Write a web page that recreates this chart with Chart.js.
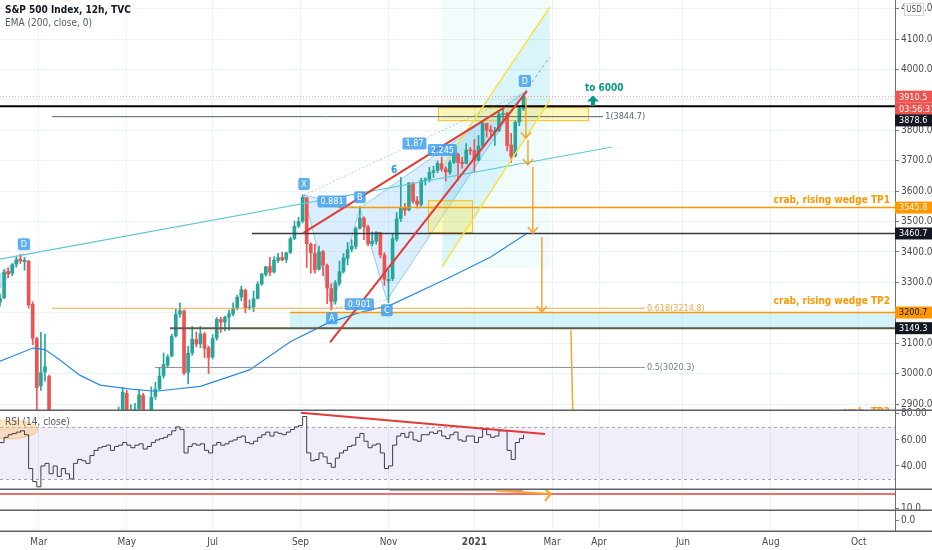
<!DOCTYPE html>
<html>
<head>
<meta charset="utf-8">
<script src="https://cdn.jsdelivr.net/npm/chart.js@4.4.1/dist/chart.umd.min.js"></script>
<style>
  html, body { margin: 0; padding: 0; background: #ffffff; }
  #wrap { width: 932px; height: 550px; position: relative; }
</style>
</head>
<body>
<div id="wrap"><canvas id="spx"></canvas></div>
<script>
// x is counted in trading days from 3 Feb 2020, one candle every two trading days
const barStep = 2;

const monthIdx = [19, 62, 104, 147, 190, 232, 270, 293, 334, 377, 420];
const monthLabels = ['Mar', 'May', 'Jul', 'Sep', 'Nov', '2021', 'Mar', 'Apr', 'Jun', 'Aug', 'Oct'];
const priceTicks = [2900, 3000, 3100, 3200, 3300, 3400, 3500, 3600, 3700, 3800, 3900, 4000, 4100, 4200];
const rsiTicks = [40, 60, 80];

const open = [
  3235, 3250, 3336, 3330, 3360, 3376, 3368, 3370, 3228, 3115,
  2960, 3005, 2990, 2750, 2745, 2705, 2530, 2405, 2240, 2470,
  2545, 2580, 2530, 2665, 2752, 2765, 2785, 2870, 2740, 2800,
  2880, 2935, 2835, 2870, 2885, 2928, 2825, 2866, 2925, 2950,
  2994, 3028, 3058, 3124, 3196, 3205, 3004, 3068, 3112, 3098,
  3130, 3085, 3055, 3117, 3178, 3170, 3186, 3196, 3216, 3252,
  3274, 3216, 3219, 3247, 3295, 3326, 3352, 3334, 3372, 3382,
  3375, 3398, 3444, 3485, 3502, 3578, 3425, 3396, 3343, 3400,
  3355, 3280, 3238, 3297, 3336, 3379, 3409, 3418, 3478, 3511,
  3482, 3428, 3435, 3464, 3390, 3305, 3312, 3442, 3510, 3546,
  3538, 3626, 3568, 3556, 3636, 3639, 3661, 3668, 3690, 3673,
  3662, 3695, 3721, 3695, 3691, 3736, 3733, 3701, 3749, 3823,
  3802, 3794, 3799, 3852, 3856, 3752, 3716, 3827, 3870
];
const high = [
  3262, 3342, 3347, 3362, 3386, 3393, 3382, 3372, 3236, 3120,
  3136, 3130, 2995, 2880, 2760, 2720, 2560, 2410, 2480, 2640,
  2640, 2590, 2675, 2790, 2818, 2815, 2880, 2872, 2815, 2890,
  2955, 2945, 2898, 2902, 2945, 2935, 2868, 2956, 2971, 3021,
  3068, 3062, 3130, 3211, 3233, 3210, 3090, 3155, 3137, 3155,
  3136, 3090, 3128, 3184, 3185, 3188, 3210, 3233, 3258, 3287,
  3278, 3243, 3272, 3302, 3330, 3352, 3382, 3385, 3395, 3399,
  3399, 3449, 3501, 3514, 3588, 3580, 3430, 3425, 3419, 3405,
  3360, 3295, 3306, 3370, 3395, 3431, 3440, 3482, 3550, 3515,
  3488, 3465, 3466, 3465, 3398, 3340, 3460, 3530, 3645, 3560,
  3628, 3630, 3582, 3643, 3644, 3678, 3682, 3699, 3712, 3680,
  3700, 3726, 3725, 3711, 3756, 3744, 3770, 3783, 3826, 3822,
  3815, 3810, 3860, 3870, 3860, 3790, 3831, 3877, 3915
];
const low = [
  3222, 3246, 3315, 3322, 3350, 3362, 3340, 3215, 3095, 2855,
  2945, 2975, 2730, 2720, 2480, 2380, 2310, 2191, 2230, 2460,
  2520, 2450, 2520, 2650, 2720, 2750, 2780, 2727, 2730, 2795,
  2870, 2820, 2798, 2858, 2875, 2810, 2797, 2860, 2915, 2945,
  2985, 3020, 3055, 3120, 3185, 2996, 2966, 3060, 3088, 3085,
  3052, 3000, 3048, 3110, 3135, 3140, 3142, 3190, 3210, 3240,
  3200, 3210, 3204, 3245, 3290, 3320, 3322, 3330, 3365, 3370,
  3365, 3395, 3440, 3480, 3495, 3349, 3330, 3330, 3340, 3322,
  3230, 3209, 3228, 3290, 3330, 3357, 3400, 3410, 3475, 3440,
  3420, 3420, 3425, 3380, 3290, 3233, 3305, 3435, 3500, 3520,
  3535, 3560, 3545, 3550, 3620, 3630, 3645, 3660, 3665, 3633,
  3655, 3690, 3636, 3675, 3690, 3720, 3663, 3700, 3745, 3777,
  3780, 3750, 3795, 3830, 3732, 3694, 3712, 3815, 3865
];
const close = [
  3248, 3334, 3328, 3358, 3374, 3370, 3373, 3226, 3116, 2954,
  3003, 3023, 2746, 2741, 2711, 2529, 2409, 2237, 2475, 2541,
  2585, 2526, 2664, 2750, 2761, 2783, 2875, 2737, 2797, 2878,
  2939, 2831, 2868, 2882, 2930, 2820, 2864, 2922, 2948, 2992,
  3030, 3055, 3122, 3194, 3207, 3002, 3067, 3113, 3097, 3131,
  3083, 3053, 3115, 3179, 3169, 3185, 3197, 3215, 3251, 3276,
  3215, 3218, 3246, 3294, 3327, 3351, 3333, 3373, 3381, 3374,
  3397, 3443, 3484, 3500, 3580, 3427, 3398, 3341, 3401, 3357,
  3281, 3237, 3298, 3335, 3380, 3408, 3419, 3477, 3512, 3483,
  3427, 3436, 3465, 3391, 3310, 3310, 3443, 3509, 3545, 3537,
  3627, 3567, 3557, 3635, 3638, 3662, 3667, 3691, 3672, 3663,
  3694, 3722, 3694, 3690, 3735, 3732, 3700, 3748, 3824, 3801,
  3795, 3798, 3853, 3855, 3750, 3714, 3826, 3871, 3912
];
const rsi = [
  58, 62, 64, 65, 66, 67, 64, 38, 28, 24,
  40, 42, 34, 40, 32, 38, 34, 30, 42, 45,
  44, 42, 48, 52, 54, 55, 56, 52, 55, 56,
  58, 56, 54, 56, 57, 53, 55, 58, 60, 61,
  62, 64, 67, 70, 68, 50, 55, 57, 56, 57,
  52, 50, 56, 58, 56, 57, 59, 60, 62, 63,
  58, 57, 59, 62, 64, 66, 63, 66, 65, 64,
  66, 68, 70, 71, 78, 50, 44, 45, 50, 47,
  42, 39, 46, 50, 52, 55, 56, 62, 65, 59,
  54, 56, 57, 50, 38, 40, 56, 63, 65, 62,
  66, 60, 59, 64, 64, 66, 65, 67, 63, 61,
  64, 66, 60, 59, 63, 63, 58, 62, 68, 64,
  62, 63, 67, 67, 52, 45, 58, 61, 64
];

// EMA 200
const emaIdx = [0, 8, 16, 22, 29, 39, 49, 64, 76, 98, 122, 142, 160, 175, 191, 220, 240, 258];
const emaVal = [3041, 3062, 3084, 3079, 3046, 2995, 2962, 2949, 2942, 2958, 3012, 3105, 3165, 3199, 3225, 3317, 3383, 3462];

// harmonic pattern points
const xabcdName = ['X', 'A', 'B', 'C', 'D'];
const xabcdIdx = [148.7, 162.3, 176.0, 189.2, 256.7];
const xabcdPrice = [3587, 3215, 3544, 3241, 3926];
const ratioText = ['0.881', '0.901', '1.87', '2.245'];
const ratioPair = [[0, 2], [1, 3], [0, 4], [2, 4]];

// horizontal levels
const levelPrice = [3910.5, 3878.6, 3844.7, 3545.8, 3460.7, 3214.8, 3200.7, 3149.3, 3020.3];
const levelFrom = [0, 0, 25.4, 165.3, 123.2, 25.4, 141.8, 83.1, 75.8];
const levelTo = [437.7, 437.7, 294.9, 437.7, 437.7, 315.4, 437.7, 437.7, 315.4];

// orange target arrows
const arrowIdx = [257.2, 258.2, 260.6, 265.0];
const arrowFrom = [3909, 3768, 3679, 3449];
const arrowTo = [3774, 3686, 3462, 3202];

const FONT = '"Liberation Sans Narrow", "DejaVu Sans Condensed", Roboto, sans-serif';
Chart.defaults.font.family = FONT;
Chart.defaults.font.size = 10;
Chart.defaults.color = '#4a4a4a';

const levelStyle = [
  { color: 'rgba(239,83,80,0.55)', width: 1, dash: [1, 2] },
  { color: '#000000', width: 2 },
  { color: '#5d606b', width: 1 },
  { color: '#ff9800', width: 1.5 },
  { color: '#363a45', width: 1.5 },
  { color: '#f0a848', width: 1 },
  { color: '#ff9800', width: 1.5 },
  { color: '#5d5a45', width: 2 },
  { color: '#8a8d96', width: 1 }
];

const upColor = '#26a69a', downColor = '#ef5350';
const candleColor = close.map((c, i) => c >= open[i] ? upColor : downColor);
const wickData = high.map((h, i) => ({ x: i * barStep, y: [low[i], h] }));
const bodyData = open.map((o, i) => ({ x: i * barStep, y: [Math.min(o, close[i]), Math.max(o, close[i])] }));

function seg(pts, color, width, axis, extra) {
  return Object.assign({
    type: 'line',
    data: pts.map(p => ({ x: p[0], y: p[1] })),
    yAxisID: axis || 'y',
    borderColor: color,
    borderWidth: width,
    pointRadius: 0,
    fill: false,
    tension: 0,
    order: 1
  }, extra || {});
}

const datasets = [
  // trendlines of the wedge
  seg([[148.2, 3462], [246.9, 3876]], '#e53935', 2),
  seg([[161.4, 3103], [257.7, 3929]], '#e53935', 2),
  // rising channel
  seg([[217.6, 3692], [268.9, 4205]], '#f5e23c', 1.5),
  seg([[216.1, 3350], [268.9, 3899]], '#f5e23c', 1.5),
  seg([[256.7, 3926], [268.9, 4041]], '#9598a1', 1, 'y', { borderDash: [3, 3] }),
  // long teal trendline
  seg([[0, 3376], [299.3, 3745]], '#5cc8d8', 1.2),
  // RSI and its trendline
  seg([[147.2, 80.8], [266.5, 64.6]], '#e53935', 2, 'yRsi'),
  {
    type: 'line', yAxisID: 'yRsi', order: 2,
    data: rsi.map((v, i) => ({ x: i * barStep, y: v })),
    stepped: true, borderColor: '#3d3b4f', borderWidth: 1, pointRadius: 0, fill: false
  },
  // lower panel lines
  seg([[0, 24], [437.7, 24]], 'rgba(239,83,80,0.85)', 2, 'yP3'),
  seg([[190.7, 28.3], [255.7, 28.3]], '#a9766c', 2, 'yP3'),
  // EMA 200
  seg(emaIdx.map((v, i) => [v, emaVal[i]]), '#2a8ae0', 1.2, 'y', { order: 4 }),
  // candles
  { type: 'bar', yAxisID: 'y', data: bodyData, backgroundColor: candleColor, barThickness: 3, minBarLength: 1, grouped: false, order: 5 },
  { type: 'bar', yAxisID: 'y', data: wickData, backgroundColor: candleColor, barThickness: 1, grouped: false, order: 6 }
];
levelPrice.forEach((p, i) => {
  const s = levelStyle[i];
  datasets.push(seg([[levelFrom[i], p], [levelTo[i], p]], s.color, s.width, 'y', { order: 3, borderDash: s.dash || [] }));
});

function xp(chart, v) { return chart.scales.x.getPixelForValue(v); }
function yp(chart, axis, v) { return chart.scales[axis].getPixelForValue(v); }
function clipPanel(chart, axis) {
  const a = chart.chartArea, s = chart.scales[axis], ctx = chart.ctx;
  ctx.beginPath();
  ctx.rect(a.left, s.top, a.right - a.left, s.bottom - s.top);
  ctx.clip();
}
function poly(ctx, pts, fill, stroke, lw) {
  ctx.beginPath();
  pts.forEach((p, i) => i ? ctx.lineTo(p[0], p[1]) : ctx.moveTo(p[0], p[1]));
  ctx.closePath();
  if (fill) { ctx.fillStyle = fill; ctx.fill(); }
  if (stroke) { ctx.strokeStyle = stroke; ctx.lineWidth = lw || 1; ctx.stroke(); }
}
function zone(chart, x1, x2, p1, p2, fill, stroke) {
  const ctx = chart.ctx;
  const l = xp(chart, x1), r = xp(chart, x2), t = yp(chart, 'y', p1), b = yp(chart, 'y', p2);
  ctx.fillStyle = fill;
  ctx.fillRect(l, t, r - l, b - t);
  if (stroke) { ctx.strokeStyle = stroke; ctx.lineWidth = 1; ctx.strokeRect(l + 0.5, t + 0.5, r - l - 1, b - t - 1); }
}
function chip(ctx, cx, cy, text, bg, fg, size) {
  ctx.font = (size || 9) + 'px ' + FONT;
  const w = ctx.measureText(text).width + 6;
  ctx.fillStyle = bg;
  ctx.beginPath();
  ctx.roundRect(cx - w / 2, cy - 6, w, 12, 2);
  ctx.fill();
  ctx.fillStyle = fg;
  ctx.textAlign = 'center';
  ctx.textBaseline = 'middle';
  ctx.fillText(text, cx, cy + 0.5);
}
function arrowDown(ctx, x, y1, y2, color) {
  ctx.strokeStyle = color;
  ctx.lineWidth = 1.5;
  ctx.beginPath();
  ctx.moveTo(x, y1); ctx.lineTo(x, y2);
  ctx.moveTo(x - 5, y2 - 6); ctx.lineTo(x, y2); ctx.lineTo(x + 5, y2 - 6);
  ctx.stroke();
}

const drawings = {
  id: 'drawings',
  beforeDatasetDraw(chart, args) {
    chart.ctx.save();
    clipPanel(chart, args.meta.yScale.id);
  },
  afterDatasetDraw(chart) {
    chart.ctx.restore();
  },
  beforeDatasetsDraw(chart) {
    const ctx = chart.ctx, a = chart.chartArea;

    // RSI band 30..70
    ctx.save();
    clipPanel(chart, 'yRsi');
    const r70 = yp(chart, 'yRsi', 70), r30 = yp(chart, 'yRsi', 30);
    ctx.fillStyle = 'rgba(126,87,194,0.1)';
    ctx.fillRect(a.left, r70, a.right - a.left, r30 - r70);
    ctx.strokeStyle = '#a3a6af';
    ctx.lineWidth = 1;
    ctx.setLineDash([3, 3]);
    ctx.beginPath();
    ctx.moveTo(a.left, r70 + 0.5); ctx.lineTo(a.right, r70 + 0.5);
    ctx.moveTo(a.left, r30 + 0.5); ctx.lineTo(a.right, r30 + 0.5);
    ctx.stroke();
    ctx.setLineDash([]);
    const ex1 = xp(chart, -10.7), ex2 = xp(chart, 18.6), ey1 = yp(chart, 'yRsi', 75.4), ey2 = yp(chart, 'yRsi', 60.8);
    ctx.beginPath();
    ctx.ellipse((ex1 + ex2) / 2, (ey1 + ey2) / 2, (ex2 - ex1) / 2, (ey2 - ey1) / 2, 0, 0, Math.PI * 2);
    ctx.fillStyle = 'rgba(255,183,77,0.35)';
    ctx.fill();
    ctx.strokeStyle = 'rgba(255,152,0,0.35)';
    ctx.stroke();
    ctx.restore();

    // main panel fills
    ctx.save();
    clipPanel(chart, 'y');
    zone(chart, 216.1, 268.9, 4228, 3347, 'rgba(0,188,212,0.05)');
    poly(ctx, [
      [xp(chart, 216.1), yp(chart, 'y', 3350)], [xp(chart, 217.6), yp(chart, 'y', 3692)],
      [xp(chart, 268.9), yp(chart, 'y', 4205)], [xp(chart, 268.9), yp(chart, 'y', 3899)]
    ], 'rgba(0,188,212,0.1)');
    const pt = xabcdIdx.map((v, i) => [xp(chart, v), yp(chart, 'y', xabcdPrice[i])]);
    poly(ctx, [pt[0], pt[1], pt[2]], 'rgba(33,150,243,0.16)', 'rgba(33,150,243,0.45)', 1);
    poly(ctx, [pt[2], pt[3], pt[4]], 'rgba(33,150,243,0.16)', 'rgba(33,150,243,0.45)', 1);
    poly(ctx, [
      [xp(chart, 0), yp(chart, 'y', 3325)], [xp(chart, 11.7), yp(chart, 'y', 3395)], [xp(chart, 0), yp(chart, 'y', 3282)]
    ], 'rgba(33,150,243,0.16)', 'rgba(33,150,243,0.4)', 1);
    zone(chart, 214.2, 288.0, 3876, 3830, 'rgba(255,235,59,0.35)', 'rgba(255,179,0,0.85)');
    zone(chart, 209.3, 231.3, 3570, 3462, 'rgba(255,235,59,0.35)', 'rgba(255,179,0,0.85)');
    zone(chart, 141.8, 437.7, 3200.7, 3149.3, 'rgba(128,222,234,0.35)');
    ctx.restore();
  },
  afterDatasetsDraw(chart) {
    const ctx = chart.ctx, a = chart.chartArea;
    ctx.save();
    clipPanel(chart, 'y');

    // dotted ratio legs of the pattern
    const pt = xabcdIdx.map((v, i) => [xp(chart, v), yp(chart, 'y', xabcdPrice[i])]);
    ctx.strokeStyle = 'rgba(120,144,156,0.45)';
    ctx.lineWidth = 1;
    ctx.setLineDash([2, 2]);
    [[1, 3], [0, 4]].forEach(p => {
      ctx.beginPath();
      ctx.moveTo(pt[p[0]][0], pt[p[0]][1]);
      ctx.lineTo(pt[p[1]][0], pt[p[1]][1]);
      ctx.stroke();
    });
    ctx.setLineDash([]);

    // target arrows
    arrowIdx.forEach((v, i) => {
      arrowDown(ctx, xp(chart, v), yp(chart, 'y', arrowFrom[i]), yp(chart, 'y', arrowTo[i]), '#f7a530');
    });
    ctx.strokeStyle = '#f7a530';
    ctx.lineWidth = 1.5;
    ctx.beginPath();
    ctx.moveTo(xp(chart, 279.2), yp(chart, 'y', 3143));
    ctx.lineTo(xp(chart, 280.2), yp(chart, 'y', 2850));
    ctx.stroke();

    // pattern labels
    xabcdName.forEach((n, i) => {
      const off = (i === 1 || i === 3) ? 10 : -11;
      chip(ctx, pt[i][0], pt[i][1] + off, n, 'rgba(66,160,240,0.85)', '#ffffff');
    });
    chip(ctx, xp(chart, 11.7), yp(chart, 'y', 3425), 'D', 'rgba(66,160,240,0.85)', '#ffffff');
    ratioPair.forEach((p, i) => {
      chip(ctx, (pt[p[0]][0] + pt[p[1]][0]) / 2, (pt[p[0]][1] + pt[p[1]][1]) / 2, ratioText[i], 'rgba(66,160,240,0.85)', '#ffffff');
    });
    ctx.font = 'bold 10px ' + FONT;
    ctx.fillStyle = '#2196f3';
    ctx.textAlign = 'center';
    ctx.textBaseline = 'middle';
    ctx.fillText('6', xp(chart, 192.7), yp(chart, 'y', 3669));

    // level texts
    ctx.font = '9px ' + FONT;
    ctx.textAlign = 'left';
    ctx.fillStyle = '#5d606b';
    ctx.fillText('1(3844.7)', xp(chart, 296), yp(chart, 'y', 3844.7));
    ctx.fillStyle = '#f0a848';
    ctx.fillText('0.618(3214.8)', xp(chart, 316.4), yp(chart, 'y', 3214.8));
    ctx.fillStyle = '#787b86';
    ctx.fillText('0.5(3020.3)', xp(chart, 316.4), yp(chart, 'y', 3020.3));
    ctx.font = 'bold 10px ' + FONT;
    ctx.textAlign = 'right';
    ctx.fillStyle = '#ff9800';
    ctx.fillText('crab, rising wedge TP1', xp(chart, 435.2), yp(chart, 'y', 3570));
    ctx.fillText('crab, rising wedge TP2', xp(chart, 435.2), yp(chart, 'y', 3237));
    ctx.fillText('crab, TP3', xp(chart, 435.2), yp(chart, 'y', 2872));

    // "to 6000"
    ctx.fillStyle = '#089981';
    ctx.textAlign = 'center';
    ctx.fillText('to 6000', xp(chart, 295.5), yp(chart, 'y', 3939));
    const ax = xp(chart, 290), at = yp(chart, 'y', 3914), ab = yp(chart, 'y', 3880);
    ctx.beginPath();
    ctx.moveTo(ax, at); ctx.lineTo(ax + 6, at + 6); ctx.lineTo(ax + 2, at + 6);
    ctx.lineTo(ax + 2, ab); ctx.lineTo(ax - 2, ab); ctx.lineTo(ax - 2, at + 6); ctx.lineTo(ax - 6, at + 6);
    ctx.closePath();
    ctx.fill();
    ctx.restore();

    // arrow in the third pane
    ctx.save();
    clipPanel(chart, 'yP3');
    const x1 = xp(chart, 242.5), x2 = xp(chart, 269.4), y1 = yp(chart, 'yP3', 27.5), y2 = yp(chart, 'yP3', 24);
    ctx.strokeStyle = '#f7a530';
    ctx.lineWidth = 2;
    ctx.beginPath();
    ctx.moveTo(x1, y1); ctx.lineTo(x2, y2);
    ctx.moveTo(x2 - 6, y2 - 5); ctx.lineTo(x2, y2); ctx.lineTo(x2 - 6, y2 + 7);
    ctx.stroke();
    ctx.restore();

    // RSI title
    ctx.save();
    ctx.font = '10px ' + FONT;
    ctx.fillStyle = '#555a66';
    ctx.textAlign = 'left';
    ctx.textBaseline = 'middle';
    ctx.fillText('RSI (14, close)', a.left + 5, chart.scales.yRsi.top + 12);
    ctx.restore();
  },
  afterDraw(chart) {
    const ctx = chart.ctx, w = chart.width;
    ctx.save();
    // pane separators
    ctx.strokeStyle = '#5d606b';
    ctx.lineWidth = 1.5;
    ['y', 'yRsi', 'yP3', 'yP4'].forEach(k => {
      const b = Math.round(chart.scales[k].bottom) + 0.25;
      ctx.beginPath();
      ctx.moveTo(0, b); ctx.lineTo(w, b);
      ctx.stroke();
    });

    // price tags on the axis
    const ax = chart.chartArea.right;
    const tags = [
      { p: 3910.5, t: '3910.5', bg: '#ef5350', fg: '#ffffff', d: 0 },
      { p: 3910.5, t: '03:56:31', bg: '#ef5350', fg: '#ffffff', d: 12 },
      { p: 3878.6, t: '3878.6', bg: '#131722', fg: '#ffffff', d: 14 },
      { p: 3545.8, t: '3545.8', bg: '#ff9800', fg: '#ffffff', d: 0 },
      { p: 3460.7, t: '3460.7', bg: '#131722', fg: '#ffffff', d: 0 },
      { p: 3200.7, t: '3200.7', bg: '#ff9800', fg: '#131722', d: 0 },
      { p: 3149.3, t: '3149.3', bg: '#131722', fg: '#ffffff', d: 0 }
    ];
    ctx.font = '9px ' + FONT;
    tags.forEach(g => {
      const cy = yp(chart, 'y', g.p) + g.d;
      ctx.fillStyle = g.bg;
      ctx.fillRect(ax, cy - 6, w - ax, 12);
      ctx.fillStyle = g.fg;
      ctx.textAlign = 'left';
      ctx.textBaseline = 'middle';
      ctx.fillText(g.t, ax + 4, cy + 0.5);
    });

    // currency badge
    ctx.fillStyle = '#ffffff';
    ctx.fillRect(904, 3, 20, 13);
    ctx.strokeStyle = '#d1d4dc';
    ctx.lineWidth = 1;
    ctx.strokeRect(904.5, 3.5, 19, 12);
    ctx.font = '8px ' + FONT;
    ctx.fillStyle = '#4a4a4a';
    ctx.textAlign = 'center';
    ctx.fillText('USD', 914, 10);

    // legend lines
    ctx.textAlign = 'left';
    ctx.font = 'bold 10px ' + FONT;
    ctx.fillStyle = '#131722';
    ctx.fillText('S&P 500 Index, 12h, TVC', 5, 10);
    ctx.font = '10px ' + FONT;
    ctx.fillStyle = '#555a66';
    ctx.fillText('EMA (200, close, 0)', 5, 23);
    ctx.restore();
  }
};

function fixAxis(s) {
  s.width = 37;
  s.paddingTop = 0;
  s.paddingBottom = 0;
}
function pane(weight, min, max, ticks, digits, grid) {
  return {
    type: 'linear',
    position: 'right',
    stack: 'panes',
    stackWeight: weight,
    min: min,
    max: max,
    afterBuildTicks: s => { s.ticks = ticks.map(v => ({ value: v })); },
    afterFit: fixAxis,
    ticks: { autoSkip: false, padding: 2, color: '#4a4a4a', callback: v => Number(v).toFixed(digits) },
    grid: { color: '#eef1f6', drawOnChartArea: grid, tickColor: '#787b86', tickLength: 4 },
    border: { color: '#6a6d78' }
  };
}

new Chart(document.getElementById('spx'), {
  type: 'bar',
  data: { datasets: datasets },
  plugins: [drawings],
  options: {
    responsive: true,
    maintainAspectRatio: false,
    animation: false,
    layout: { padding: 0 },
    plugins: { legend: { display: false }, tooltip: { enabled: false } },
    scales: {
      x: {
        type: 'linear',
        offset: false,
        min: 0,
        max: 437.7,
        afterBuildTicks: s => { s.ticks = monthIdx.map(v => ({ value: v })); },
        afterFit: s => { s.height = 19; s.paddingLeft = 0; s.paddingRight = 0; },
        ticks: {
          autoSkip: false,
          maxRotation: 0,
          padding: 5,
          color: '#4a4a4a',
          callback: (v, i) => monthLabels[i],
          font: c => ({ family: FONT, size: 10, weight: c.tick && c.tick.label === '2021' ? 'bold' : 'normal' })
        },
        grid: { color: '#eef1f6', drawTicks: false, offset: false },
        border: { color: '#6a6d78' }
      },
      y: pane(410, 2880.3, 4228.3, priceTicks, 1, true),
      yRsi: pane(79, 22.3, 83, rsiTicks, 2, false),
      yP3: pane(21, 8, 29, [10], 1, false),
      yP4: pane(21, -10.5, 10.5, [0], 1, false)
    }
  }
});
</script>
</body>
</html>
